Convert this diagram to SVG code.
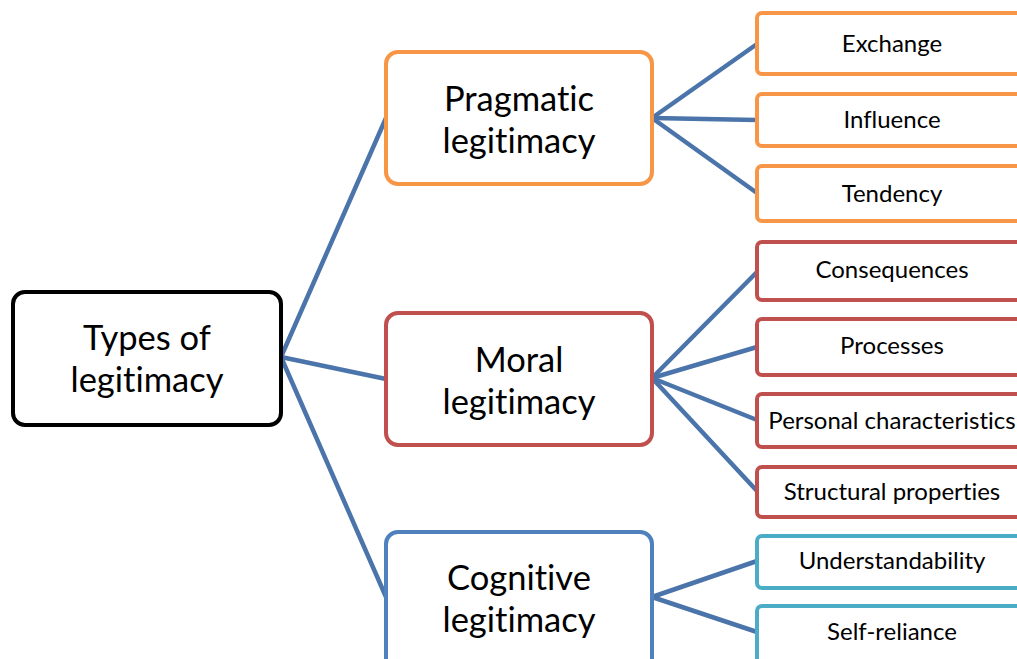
<svg xmlns="http://www.w3.org/2000/svg" width="1017" height="659" viewBox="0 0 1017 659">
<style>
.big{font-family:Lato,"Liberation Sans",sans-serif;font-size:34.5px;fill:#000;text-anchor:middle;font-variant-ligatures:none}
.small{font-family:Lato,"Liberation Sans",sans-serif;font-size:24px;fill:#000;text-anchor:middle;font-variant-ligatures:none}
.box{fill:#fff;stroke-width:4}
.or{stroke:#F79646}.rd{stroke:#C0504D}.bl{stroke:#4F81BD}.cy{stroke:#4BACC6}
.conn line{stroke:#4A74AA;stroke-width:4.5;stroke-linecap:round}
</style>
<rect width="1017" height="659" fill="#fff"/>
<g class="conn">
<line x1="281" y1="357" x2="386" y2="118"/>
<line x1="281" y1="357" x2="386" y2="379"/>
<line x1="281" y1="357" x2="386" y2="597"/>
<line x1="652" y1="118" x2="757" y2="44"/>
<line x1="652" y1="118" x2="757" y2="120"/>
<line x1="652" y1="118" x2="757" y2="193"/>
<line x1="652" y1="378" x2="757" y2="272"/>
<line x1="652" y1="378" x2="757" y2="347"/>
<line x1="652" y1="378" x2="757" y2="420"/>
<line x1="652" y1="378" x2="757" y2="491"/>
<line x1="652" y1="597" x2="757" y2="561"/>
<line x1="652" y1="597" x2="757" y2="632"/>
</g>
<g id="root"><rect class="box" x="13" y="292" width="268" height="133" rx="12" stroke="#000" stroke-width="4.5"/>
<text class="big" x="147" y="350">Types of</text><text class="big" x="147" y="392">legitimacy</text></g>
<g id="pragmatic"><rect class="box or" x="386" y="52" width="266" height="132" rx="12"/>
<text class="big" x="519" y="111">Pragmatic</text><text class="big" x="519" y="153">legitimacy</text></g>
<g id="moral"><rect class="box rd" x="386" y="313" width="266" height="132" rx="12"/>
<text class="big" x="519" y="372">Moral</text><text class="big" x="519" y="414">legitimacy</text></g>
<g id="cognitive"><rect class="box bl" x="386" y="532" width="266" height="140" rx="12"/>
<text class="big" x="519" y="590">Cognitive</text><text class="big" x="519" y="632">legitimacy</text></g>
<g id="exchange"><rect class="box or" x="757" y="13" width="280" height="61" rx="5"/><text class="small" x="892" y="52">Exchange</text></g>
<g id="influence"><rect class="box or" x="757" y="94" width="280" height="52" rx="5"/><text class="small" x="892" y="128">Influence</text></g>
<g id="tendency"><rect class="box or" x="757" y="166" width="280" height="55" rx="5"/><text class="small" x="892" y="202">Tendency</text></g>
<g id="consequences"><rect class="box rd" x="757" y="242" width="280" height="58" rx="5"/><text class="small" x="892" y="278">Consequences</text></g>
<g id="processes"><rect class="box rd" x="757" y="319" width="280" height="56" rx="5"/><text class="small" x="892" y="354">Processes</text></g>
<g id="personal"><rect class="box rd" x="757" y="394" width="280" height="53" rx="5"/><text class="small" x="892" y="429">Personal characteristics</text></g>
<g id="structural"><rect class="box rd" x="757" y="467" width="280" height="50" rx="5"/><text class="small" x="892" y="500">Structural properties</text></g>
<g id="understandability"><rect class="box cy" x="757" y="536" width="280" height="52" rx="5"/><text class="small" x="892" y="569">Understandability</text></g>
<g id="selfreliance"><rect class="box cy" x="757" y="606" width="280" height="60" rx="5"/><text class="small" x="892" y="640">Self-reliance</text></g>
</svg>
